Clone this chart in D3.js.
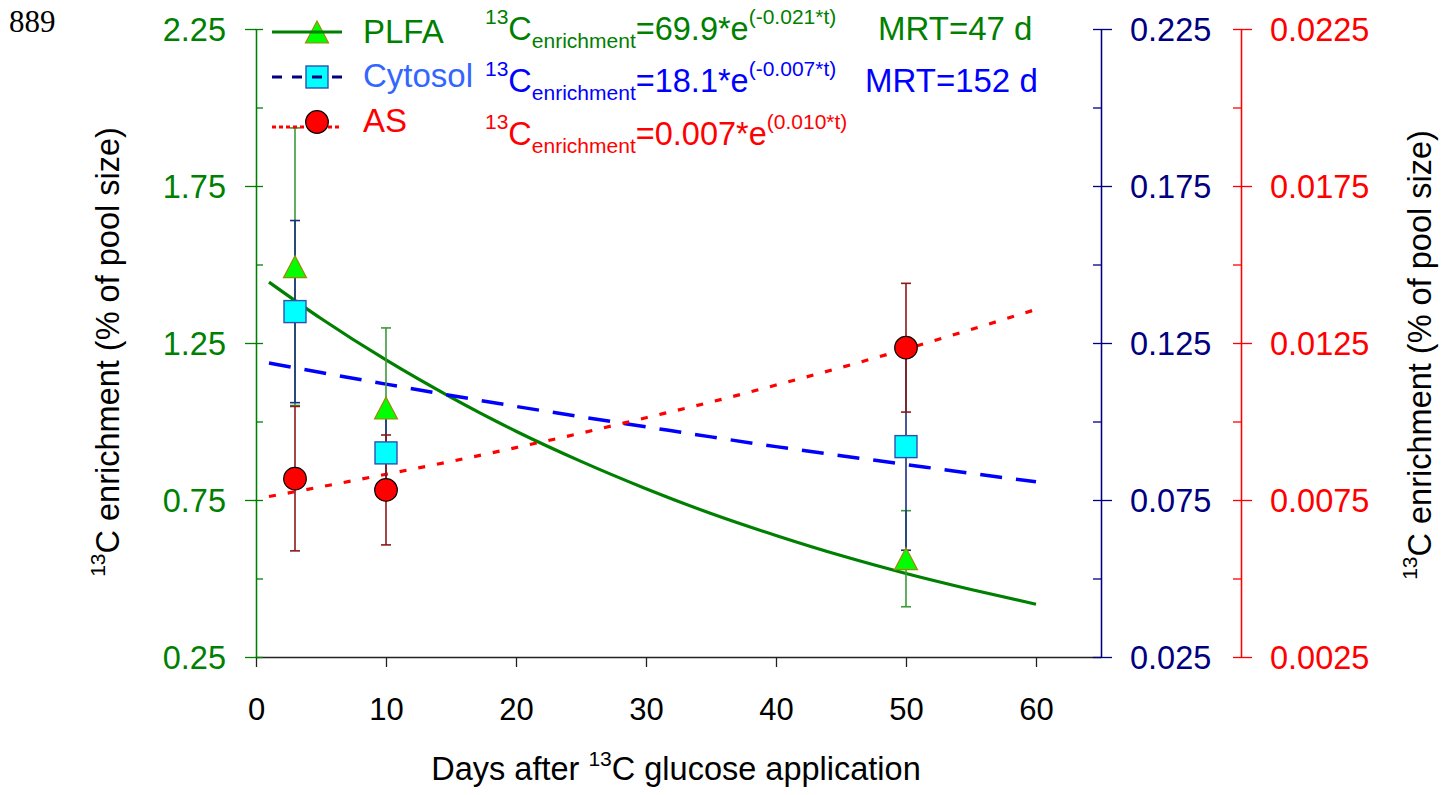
<!DOCTYPE html>
<html>
<head>
<meta charset="utf-8">
<script src="https://cdn.jsdelivr.net/npm/d3@7"></script>
<style>
  html, body { margin: 0; padding: 0; background: #fff; }
  svg { display: block; font-family: "Liberation Sans", Arial, sans-serif; }
</style>
</head>
<body>
<svg id="chart" width="1454" height="795"></svg>
<script>
// ---------------- data ----------------
const days = [3, 10, 50];
const plfaMean = [1.493, 1.043, 0.563];
const plfaErr  = [0.442, 0.255, 0.153];
const cytMean  = [0.135, 0.090, 0.092];
const cytErr   = [0.029, 0.0148, 0.033];
const asMean   = [0.00818, 0.00782, 0.01235];
const asErr    = [0.0023, 0.00175, 0.00205];

const fitDays  = [1, 5, 10, 15, 20, 25, 30, 35, 40, 45, 50, 55, 60];
const plfaFit  = [1.444, 1.328, 1.196, 1.077, 0.969, 0.873, 0.786, 0.707, 0.637, 0.573, 0.516, 0.465, 0.418];
const cytFit   = [0.1186, 0.1156, 0.1119, 0.1083, 0.1048, 0.1015, 0.0983, 0.0951, 0.0920, 0.0891, 0.0863, 0.0835, 0.0808];
const asFit    = [0.00761, 0.00792, 0.00832, 0.00873, 0.00917, 0.00963, 0.01012, 0.01062, 0.01116, 0.01172, 0.01231, 0.01293, 0.01357];

const xTicks        = [0, 10, 20, 30, 40, 50, 60];
const leftMajor     = [0.25, 0.75, 1.25, 1.75, 2.25];
const leftAll       = [0.25, 0.5, 0.75, 1.0, 1.25, 1.5, 1.75, 2.0, 2.25];
const blueMajor     = [0.025, 0.075, 0.125, 0.175, 0.225];
const blueAll       = [0.025, 0.05, 0.075, 0.1, 0.125, 0.15, 0.175, 0.2, 0.225];
const redMajor      = [0.0025, 0.0075, 0.0125, 0.0175, 0.0225];
const redAll        = [0.0025, 0.005, 0.0075, 0.01, 0.0125, 0.015, 0.0175, 0.02, 0.0225];

const seriesNames = ["PLFA", "Cytosol", "AS"];
const eqMain = ["=69.9*e", "=18.1*e", "=0.007*e"];
const eqExp  = ["(-0.021*t)", "(-0.007*t)", "(0.010*t)"];
const mrtText = ["MRT=47 d", "MRT=152 d"];
const yTitle = "C enrichment (% of pool size)";
const xTitleA = "Days after ";
const xTitleB = "C glucose application";

// ---------------- setup ----------------
const svg = d3.select("#chart");
const GREEN = "#008000", NAVY = "#000080", BLUE = "#0000ff", RED = "#ff0000";

const x  = d3.scaleLinear().domain([0, 65]).range([256, 1101]);
const yL = d3.scaleLinear().domain([0.25, 2.25]).range([657, 29]);
const yB = d3.scaleLinear().domain([0.025, 0.225]).range([657, 29]);
const yR = d3.scaleLinear().domain([0.0025, 0.0225]).range([657, 29]);

// "889" corner label
svg.append("text").attr("x", 9).attr("y", 32)
  .attr("font-family", "'Liberation Serif', 'Times New Roman', serif")
  .attr("font-size", 31).attr("fill", "#000").text("889");

// ---------------- axes ----------------
function styleAxis(g, color, fs) {
  g.selectAll("path.domain").attr("stroke", color).attr("stroke-width", 1.3);
  g.selectAll(".tick line").attr("stroke", color).attr("stroke-width", 1.3);
  g.selectAll(".tick text").attr("fill", color).attr("font-size", fs)
    .attr("font-family", "'Liberation Sans', Arial, sans-serif");
}

// X axis
const gx = svg.append("g").attr("transform", "translate(0,657)")
  .call(d3.axisBottom(x).tickValues(xTicks).tickSize(10).tickSizeOuter(0).tickFormat(d3.format("d")));
styleAxis(gx, "#222", 31);
gx.selectAll(".tick text").attr("dy", null).attr("y", 63).attr("fill", "#000");

// Left (green) axis
const gl = svg.append("g").attr("transform", "translate(256,0)")
  .call(d3.axisLeft(yL).tickValues(leftMajor).tickSize(11).tickPadding(19).tickSizeOuter(0).tickFormat(d3.format(".2f")));
styleAxis(gl, GREEN, 32.5);
gl.selectAll(".tick text").attr("dy", "0.36em");
const gl2 = svg.append("g").attr("transform", "translate(256,0)")
  .call(d3.axisRight(yL).tickValues(leftAll).tickSize(7).tickSizeOuter(0).tickFormat(""));
styleAxis(gl2, GREEN, 32);

// Blue axis
const gb = svg.append("g").attr("transform", "translate(1101,0)")
  .call(d3.axisRight(yB).tickValues(blueMajor).tickSize(11).tickPadding(18).tickSizeOuter(0).tickFormat(d3.format(".3f")));
styleAxis(gb, NAVY, 32.5);
gb.selectAll(".tick text").attr("dy", "0.36em");
const gb2 = svg.append("g").attr("transform", "translate(1101,0)")
  .call(d3.axisLeft(yB).tickValues(blueAll).tickSize(8).tickSizeOuter(0).tickFormat(""));
styleAxis(gb2, NAVY, 32);

// Red axis
const gr = svg.append("g").attr("transform", "translate(1241,0)")
  .call(d3.axisRight(yR).tickValues(redMajor).tickSize(11).tickPadding(18).tickSizeOuter(0).tickFormat(d3.format(".4f")));
styleAxis(gr, RED, 32.5);
gr.selectAll(".tick text").attr("dy", "0.36em");
const gr2 = svg.append("g").attr("transform", "translate(1241,0)")
  .call(d3.axisLeft(yR).tickValues(redAll).tickSize(8).tickSizeOuter(0).tickFormat(""));
styleAxis(gr2, RED, 32);

// Axis titles
function yAxisTitle(cx, cy) {
  const t = svg.append("text").attr("transform", `translate(${cx},${cy}) rotate(-90)`)
    .attr("text-anchor", "middle").attr("font-size", 32.5).attr("fill", "#000");
  t.append("tspan").attr("font-size", 21).attr("dy", -14).text("13");
  t.append("tspan").attr("dy", 14).text(yTitle);
}
yAxisTitle(119, 352);
yAxisTitle(1431, 355);

const xt = svg.append("text").attr("x", 676).attr("y", 780).attr("text-anchor", "middle")
  .attr("font-size", 32.5).attr("fill", "#000");
xt.append("tspan").text(xTitleA);
xt.append("tspan").attr("font-size", 21).attr("dy", -14).text("13");
xt.append("tspan").attr("dy", 14).text(xTitleB);

// ---------------- fitted curves ----------------
const fitData = fitDays.map((d, i) => ({ d, p: plfaFit[i], c: cytFit[i], a: asFit[i] }));
svg.append("path").datum(fitData)
  .attr("d", d3.line().x(d => x(d.d)).y(d => yL(d.p)).curve(d3.curveMonotoneX))
  .attr("fill", "none").attr("stroke", GREEN).attr("stroke-width", 3.2);
svg.append("path").datum(fitData)
  .attr("d", d3.line().x(d => x(d.d)).y(d => yB(d.c)).curve(d3.curveMonotoneX))
  .attr("fill", "none").attr("stroke", BLUE).attr("stroke-width", 3.5).attr("stroke-dasharray", "22,14");
svg.append("path").datum(fitData)
  .attr("d", d3.line().x(d => x(d.d)).y(d => yR(d.a)).curve(d3.curveMonotoneX))
  .attr("fill", "none").attr("stroke", RED).attr("stroke-width", 3.2).attr("stroke-dasharray", "7,12");

// ---------------- error bars ----------------
function errorBars(means, errs, scale, color) {
  const g = svg.append("g").attr("stroke", color).attr("stroke-width", 1.6);
  days.forEach((d, i) => {
    const cx = x(d), y1 = scale(means[i] + errs[i]), y2 = scale(means[i] - errs[i]);
    g.append("line").attr("x1", cx).attr("x2", cx).attr("y1", y1).attr("y2", y2);
    g.append("line").attr("x1", cx - 5).attr("x2", cx + 5).attr("y1", y1).attr("y2", y1);
    g.append("line").attr("x1", cx - 5).attr("x2", cx + 5).attr("y1", y2).attr("y2", y2);
  });
}
errorBars(plfaMean, plfaErr, yL, "#3a9a3a");
errorBars(cytMean, cytErr, yB, "#1a2f80");
errorBars(asMean, asErr, yR, "#8b1a1a");

// ---------------- markers ----------------
const triPath = (cx, cy, s) => `M${cx},${cy - s / 2}L${cx + s / 2 + 0.5},${cy + s / 2}L${cx - s / 2 - 0.5},${cy + s / 2}Z`;
function drawTri(g, cx, cy) {
  g.append("path").attr("d", triPath(cx, cy, 22)).attr("fill", "#00ff00")
    .attr("stroke", "#a0860a").attr("stroke-width", 1.2);
}
function drawSq(g, cx, cy) {
  g.append("rect").attr("x", cx - 11).attr("y", cy - 11).attr("width", 22).attr("height", 22)
    .attr("fill", "#00ffff").attr("stroke", "#3050b0").attr("stroke-width", 1.4);
}
function drawCirc(g, cx, cy) {
  g.append("circle").attr("cx", cx).attr("cy", cy).attr("r", 11.3)
    .attr("fill", "#ff0000").attr("stroke", "#000").attr("stroke-width", 1.2);
}
const gm = svg.append("g");
days.forEach((d, i) => drawTri(gm, x(d), yL(plfaMean[i])));
days.forEach((d, i) => drawSq(gm, x(d), yB(cytMean[i])));
days.forEach((d, i) => drawCirc(gm, x(d), yR(asMean[i])));

// ---------------- legend ----------------
const lg = svg.append("g");
// PLFA
drawTri(lg, 317, 32);
lg.append("line").attr("x1", 272).attr("x2", 342).attr("y1", 32).attr("y2", 32)
  .attr("stroke", GREEN).attr("stroke-width", 3);
// Cytosol
drawSq(lg, 317, 77);
lg.append("line").attr("x1", 272).attr("x2", 342).attr("y1", 77).attr("y2", 77)
  .attr("stroke", NAVY).attr("stroke-width", 3).attr("stroke-dasharray", "10,10");
// AS
lg.append("line").attr("x1", 272).attr("x2", 342).attr("y1", 127).attr("y2", 127)
  .attr("stroke", RED).attr("stroke-width", 3).attr("stroke-dasharray", "4,3");
drawCirc(lg, 317, 122);

const legendColors = [GREEN, "#3366ff", RED];
const legendBase = [43, 87, 132];
seriesNames.forEach((n, i) => {
  lg.append("text").attr("x", 363).attr("y", legendBase[i]).attr("font-size", 33)
    .attr("fill", legendColors[i]).text(n);
});

// equations
const eqColors = [GREEN, BLUE, RED];
const eqBase = [40, 92, 145];
eqMain.forEach((m, i) => {
  const t = svg.append("text").attr("x", 485).attr("y", eqBase[i]).attr("font-size", 32.5).attr("fill", eqColors[i]);
  t.append("tspan").attr("font-size", 21).attr("dy", -16).text("13");
  t.append("tspan").attr("dy", 16).text("C");
  t.append("tspan").attr("font-size", 21).attr("dy", 8).text("enrichment");
  t.append("tspan").attr("dy", -8).text(m);
  t.append("tspan").attr("font-size", 21).attr("dy", -16).text(eqExp[i]);
});

// MRT
svg.append("text").attr("x", 878).attr("y", 40).attr("font-size", 33).attr("fill", GREEN).text(mrtText[0]);
svg.append("text").attr("x", 865).attr("y", 92).attr("font-size", 33).attr("fill", BLUE).text(mrtText[1]);
</script>
</body>
</html>
